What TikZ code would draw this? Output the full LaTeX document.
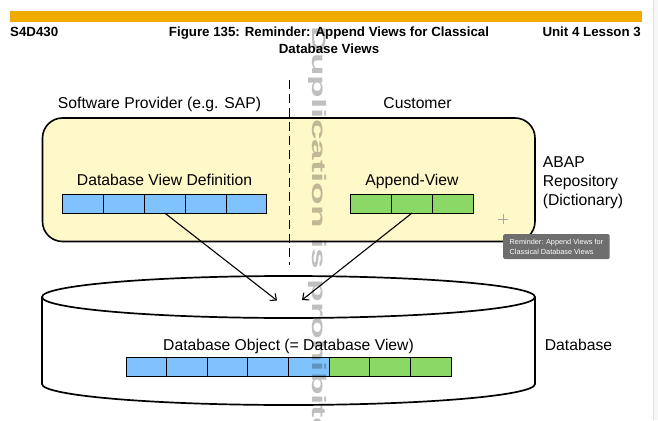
\documentclass[tikz,border=0pt]{standalone}
\usepackage{fontspec}
\setmainfont{Liberation Sans}
\usepackage{xcolor}
\usepackage{tikz}
\usetikzlibrary{arrows.meta}
\definecolor{sapgold}{HTML}{F0AB00}
\definecolor{repoyellow}{HTML}{FFF8C8}
\definecolor{defblue}{HTML}{80C3FC}
\definecolor{appgreen}{HTML}{8CD866}
\definecolor{tipgray}{HTML}{6E6E6E}
\tikzset{
  lbl/.style={font=\fontsize{15.7}{19.2}\selectfont, inner sep=0},
  hdr/.style={font=\bfseries\fontsize{13.3}{16.5}\selectfont, inner sep=0},
  cell/.style={draw, line width=0.8pt, minimum width=40.8pt, minimum height=19pt, inner sep=0, outer sep=0},
  heavy/.style={line width=1.7pt},
  >={Straight Barb[length=5pt,width=9pt]}
}

\begin{document}
\begin{tikzpicture}[x=1pt, y=-1pt]
\useasboundingbox (0,0) rectangle (658,420);

% header
\fill[sapgold] (10,11.5) rectangle (641.5,22);
\node[hdr, anchor=base west] (course) at (10,36.7) {S4D430};
\node[hdr, anchor=base east] (unit) at (641,36.7) {Unit 4 Lesson 3};
\node[hdr, anchor=north, align=center] (title) at (329,27) {Figure 135: Reminder: Append Views for Classical\\Database Views};

% repository
\node[draw, line width=1.6pt, fill=repoyellow, rounded corners=20pt, minimum width=492.5pt, minimum height=123.5pt] (repo) at (288.75,179.75) {};

\coordinate (splittop) at (289.5,80);
\coordinate (splitbot) at (289.5,265);
\draw[line width=1.6pt, dash pattern=on 9pt off 5pt] (splittop) -- (splitbot);

\node[lbl, anchor=base] (provider) at (159.5,108) {Software Provider (e.g. SAP)};
\node[lbl, anchor=base] (customer) at (417.5,108) {Customer};
\node[lbl, anchor=base] (defname) at (164.5,185) {Database View Definition};
\node[lbl, anchor=base] (appname) at (412,185.5) {Append-View};
\node[lbl, anchor=north west, align=left] (abap) at (542.7,156) {ABAP\\Repository\\(Dictionary)};

\foreach \i in {1,...,5}
  \node[cell, fill=defblue] (def\i) at ({62.7+40.8*(\i-0.5)},203.5) {};
\foreach \i in {1,...,3}
  \node[cell, fill=appgreen] (app\i) at ({350.7+40.9*(\i-0.5)},203.5) {};

% database
\coordinate (dbtop) at (288.5,297);
\draw[heavy, fill=white] (42,297) -- (42,384) .. controls (42,395.6) and (152.4,405) .. (288.5,405) .. controls (424.6,405) and (535,395.6) .. (535,384) -- (535,297);
\draw[heavy, fill=white] (dbtop) ellipse [x radius=246.5pt, y radius=21pt];

\node[lbl, anchor=base] (objname) at (288.5,350.5) {Database Object (= Database View)};
\foreach \i in {1,...,5}
  \node[cell, fill=defblue] (obj\i) at ({126+40.6*(\i-0.5)},366.8) {};
\foreach \i in {6,...,8}
  \node[cell, fill=appgreen] (obj\i) at ({126+40.6*(\i-0.5)},366.8) {};
\node[lbl, anchor=base west] (dbname) at (544.7,350.5) {Database};

\coordinate (inL) at (277,300.5);
\coordinate (inR) at (302,300);
\draw[->, line width=1.1pt] (def3.south) -- (inL);
\draw[->, line width=1.1pt] (app2.south) -- (inR);

% screen bits
\coordinate (cursor) at (503,219);
\draw[gray!70, line width=0.6pt] ([xshift=-5pt]cursor) -- ([xshift=5pt]cursor) ([yshift=-5pt]cursor) -- ([yshift=5pt]cursor);
\node[fill=tipgray, rounded corners=1.5pt, text=white, font=\fontsize{7.3}{9.5}\selectfont, align=left, anchor=north west, inner xsep=4pt, inner ysep=3pt, minimum width=106.5pt, minimum height=25pt] (tip) at (503,234) {Reminder: Append Views for\\Classical Database Views};
\fill[black!3] (653,0) rectangle (658,420);
\draw[black!12, line width=0.8pt] (653,0) -- (653,420);

\node[rotate=-90, xscale=1.9, anchor=base west, inner sep=0, text=black, text opacity=0.25, font=\bfseries\fontsize{19.5}{20}\selectfont] (watermark) at (312,26) {Duplication is prohibited};
\end{tikzpicture}
\end{document}
